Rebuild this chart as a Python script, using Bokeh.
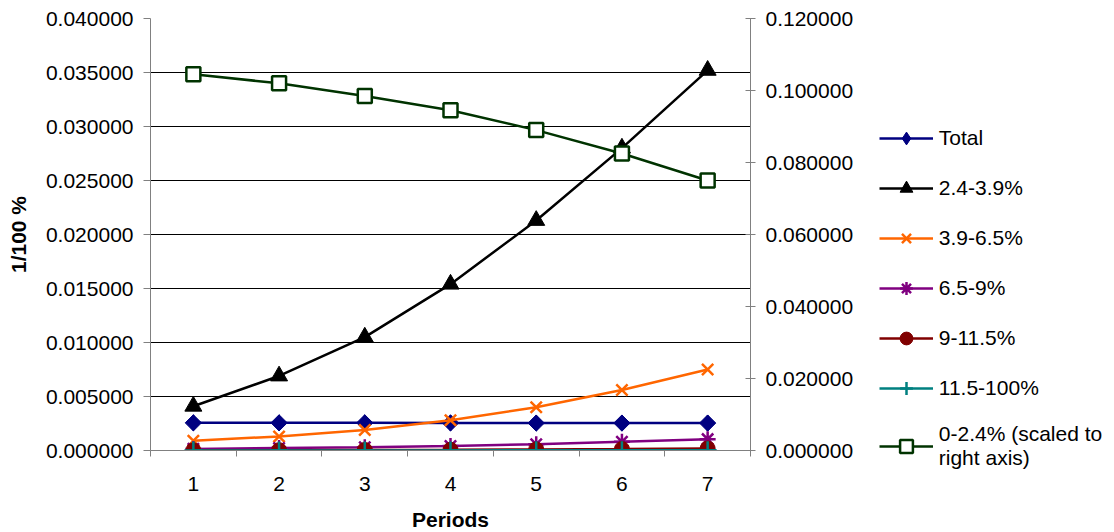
from bokeh.plotting import figure
from bokeh.models import Range1d, LinearAxis, FixedTicker, NumeralTickFormatter, Legend, LegendItem
from bokeh.embed import file_html
from bokeh.resources import INLINE
import numpy as np

periods = [1, 2, 3, 4, 5, 6, 7]
total = [0.00256, 0.00256, 0.00256, 0.00255, 0.00254, 0.00254, 0.00254]
s_24_39 = [0.0041, 0.0069, 0.0105, 0.0154, 0.0213, 0.0280, 0.0352]
s_39_65 = [0.0009, 0.0013, 0.0019, 0.0028, 0.0040, 0.0056, 0.0075]
s_65_9 = [0.00015, 0.00022, 0.00030, 0.00042, 0.00058, 0.00080, 0.00105]
s_9_115 = [0.00002, 0.00003, 0.00005, 0.00007, 0.00010, 0.00014, 0.00019]
s_115_100 = [0.000003, 0.000005, 0.000007, 0.00001, 0.000014, 0.00002, 0.000028]
s_0_24 = [0.1045, 0.1020, 0.0985, 0.0945, 0.0890, 0.0825, 0.0750]

left_ticks = [0.0, 0.005, 0.01, 0.015, 0.02, 0.025, 0.03, 0.035, 0.04]
grid_ticks = [0.005, 0.01, 0.015, 0.02, 0.025, 0.03, 0.035]
right_ticks = [0.0, 0.02, 0.04, 0.06, 0.08, 0.10, 0.12]
x_minor = [0.5, 1.5, 2.5, 3.5, 4.5, 5.5, 6.5, 7.5]

FONT = "Liberation Sans"
FS = "21px"

p = figure(frame_width=600, frame_height=432, output_backend="svg", toolbar_location=None,
           x_range=Range1d(0.5, 7.5), y_range=Range1d(0, 0.04),
           min_border_left=150, min_border_top=18, min_border_right=0, min_border_bottom=80)
p.outline_line_color = None
p.background_fill_color = "white"
p.border_fill_color = "white"
p.extra_y_ranges = {"right": Range1d(0, 0.12)}

# axes
xa = p.xaxis[0]
xa.ticker = FixedTicker(ticks=periods, minor_ticks=x_minor)
xa.major_tick_out = 0
xa.major_tick_in = 0
xa.minor_tick_out = 6
xa.minor_tick_in = 0
xa.major_label_standoff = 20
xa.axis_label = "Periods"
xa.axis_label_standoff = 14

ya = p.yaxis[0]
ya.ticker = FixedTicker(ticks=left_ticks)
ya.formatter = NumeralTickFormatter(format="0.000000")
ya.major_tick_out = 7
ya.major_tick_in = 0
ya.major_label_standoff = 10
ya.axis_label = "1/100 %"
ya.axis_label_standoff = 13

ra = LinearAxis(y_range_name="right", ticker=FixedTicker(ticks=right_ticks),
                formatter=NumeralTickFormatter(format="0.000000"))
ra.major_tick_out = 5
ra.major_tick_in = 5
ra.major_label_standoff = 10
p.add_layout(ra, "right")

for ax in [xa, ya, ra]:
    ax.axis_line_color = "#808080"
    ax.major_tick_line_color = "#808080"
    ax.minor_tick_line_color = "#808080"
    ax.major_label_text_font = FONT
    ax.major_label_text_font_size = FS
    ax.major_label_text_color = "black"
    ax.axis_label_text_font = FONT
    ax.axis_label_text_font_size = FS
    ax.axis_label_text_font_style = "bold"
    ax.axis_label_text_color = "black"

p.xgrid.visible = False
p.ygrid.ticker = FixedTicker(ticks=grid_ticks)
p.ygrid.grid_line_color = "black"
p.ygrid.grid_line_width = 1

items = []

def series(label, ys, color, marker, size, fill=None, rng="default", lw=2, extra=None):
    r1 = p.line(periods, ys, line_color=color, line_width=2.5, y_range_name=rng)
    r2 = p.scatter(periods, ys, marker=marker, size=size, line_color=color,
                   fill_color=fill if fill is not None else color, line_width=lw,
                   y_range_name=rng)
    if extra is not None:
        # rotated square gives the equal-sided diamond of the original
        p.scatter(periods, ys, marker="square", size=extra, angle=np.pi / 4,
                  line_color=color, fill_color=color, line_width=1, y_range_name=rng)
    items.append(LegendItem(label=label, renderers=[r1, r2]))

series("Total", total, "#000080", "diamond", 16, lw=1, extra=11.5)
series("2.4-3.9%", s_24_39, "black", "triangle", 17, lw=1)
series("3.9-6.5%", s_39_65, "#FF6600", "x", 16, lw=2.5)
series("6.5-9%", s_65_9, "#800080", "asterisk", 16, lw=2.5)
series("9-11.5%", s_9_115, "#800000", "circle", 15, lw=1)
series("11.5-100%", s_115_100, "#008080", "cross", 18, lw=2.5)
series("0-2.4% (scaled to\nright axis)", s_0_24, "#003300", "square", 14, fill="white", rng="right", lw=2.5)

legend = Legend(items=items, location=(-200, -20))
legend.border_line_color = None
legend.background_fill_alpha = 0
legend.padding = 0
legend.margin = 0
legend.spacing = 18
legend.glyph_width = 54
legend.glyph_height = 32
legend.label_height = 32
legend.label_standoff = 6
legend.label_text_font = FONT
legend.label_text_font_size = FS
legend.label_text_color = "black"
p.add_layout(legend, "right")

open("out.html", "w").write(file_html(p, INLINE))
